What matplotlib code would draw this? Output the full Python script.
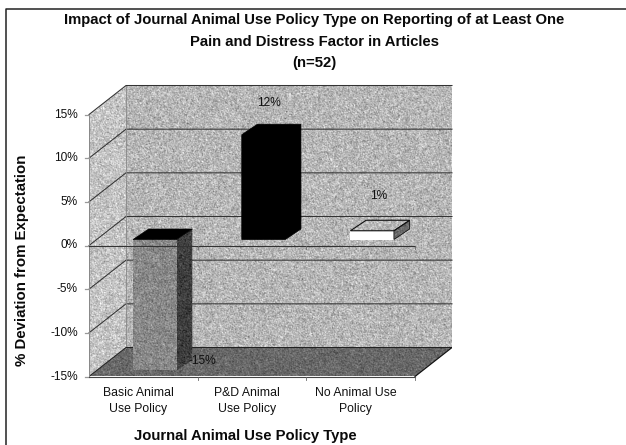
import numpy as np
import matplotlib
matplotlib.use("Agg")
import matplotlib.pyplot as plt
from matplotlib.patches import Polygon

plt.rcParams['font.family'] = ['Liberation Sans', 'DejaVu Sans']

# Chart values
categories = ["Basic Animal\nUse Policy", "P&D Animal\nUse Policy", "No Animal Use\nPolicy"]
deviation = [-15, 12, 1]
value_labels = ["-15%", "12%", "1%"]
y_ticks = [-15, -10, -5, 0, 5, 10, 15]
title_lines = ["Impact of Journal Animal Use Policy Type on Reporting of at Least One",
               "Pain and Distress Factor in Articles", "(n=52)"]
x_title = "Journal Animal Use Policy Type"
y_title = "% Deviation from Expectation"

W, H = 626, 445
fig = plt.figure(figsize=(W / 100, H / 100), dpi=100, facecolor='white')

# Front plane of the plot box, in pixels, and the depth of the box behind it
left, right, top, bottom = 89, 415, 114.5, 376.5
depth_x, depth_y = 37, 29
px_x = 3 / (right - left)
px_y = 30 / (bottom - top)
DX, DY = depth_x * px_x, depth_y * px_y

# The axes reach far enough to hold the receding walls
ax = fig.add_axes([left / W, 1 - bottom / H, (right + depth_x - left) / W, (bottom - top + depth_y) / H])
ax.axis('off')

BAR_DX, BAR_DY = 15.7 * px_x, 10.5 * px_y  # bar depth
OFF_X, OFF_Y = 11.5 * px_x, 6 * px_y       # bar front relative to box front
BAR_W = 43.5 * px_x

rng = np.random.default_rng(7)


def grain(points, mean, spread, z):
    """Fill a polygon with a stippled grey surface."""
    pts = np.array(points, float)
    x0, y0 = pts.min(0)
    x1, y1 = pts.max(0)
    nx = max(2, int(round((x1 - x0) / px_x)))
    ny = max(2, int(round((y1 - y0) / px_y)))
    n = rng.normal(0, 1, (ny, nx))
    n = 0.6 * n + 0.2 * np.roll(n, 1, 0) + 0.2 * np.roll(n, 1, 1)
    im = ax.imshow(mean + spread * n, extent=(x0, x1, y0, y1), origin='lower', cmap='gray',
                   vmin=0, vmax=255, aspect='auto', interpolation='nearest', zorder=z)
    im.set_clip_path(Polygon(pts, transform=ax.transData))


# Walls and floor
grain([(0, -15), (DX, -15 + DY), (DX, 15 + DY), (0, 15)], 196, 24, 1)
grain([(DX, -15 + DY), (3 + DX, -15 + DY), (3 + DX, 15 + DY), (DX, 15 + DY)], 182, 24, 1)
grain([(0, -15), (3, -15), (3 + DX, -15 + DY), (DX, -15 + DY)], 104, 16, 1.5)

# Gridlines along the left and back walls
for t in y_ticks:
    if t > -15:
        ax.plot([0, DX, 3 + DX], [t, t + DY, t + DY], color='#333333', lw=0.75, zorder=2,
                solid_joinstyle='miter', clip_on=False)
ax.plot([DX, DX], [-15 + DY, 15 + DY], color='#888888', lw=0.6, zorder=2)
ax.plot([0, DX, 3 + DX], [-15, -15 + DY, -15 + DY], color='#222222', lw=0.75, zorder=2)
ax.plot([3, 3 + DX], [-15, -15 + DY], color='#111111', lw=0.85, zorder=2)

# Bars
for i, v in enumerate(deviation):
    cx = i + 0.5 + OFF_X
    xa, xb = cx - BAR_W / 2, cx + BAR_W / 2
    ytop = max(OFF_Y, v + OFF_Y)
    ylow = min(OFF_Y, v + OFF_Y)
    top_face = [(xa, ytop), (xb, ytop), (xb + BAR_DX, ytop + BAR_DY), (xa + BAR_DX, ytop + BAR_DY)]
    side_face = [(xb, ylow), (xb + BAR_DX, ylow + BAR_DY), (xb + BAR_DX, ytop + BAR_DY), (xb, ytop)]
    front_face = [(xa, ylow), (xb, ylow), (xb, ytop), (xa, ytop)]
    if v < -5:
        grain(front_face, 136, 20, 3)
        grain(side_face, 62, 16, 3)
        ax.add_patch(Polygon(top_face, fc='black', ec='black', lw=0.5, zorder=3))
    elif v > 5:
        outline = [(xa, ylow), (xb, ylow), (xb + BAR_DX, ylow + BAR_DY), (xb + BAR_DX, ytop + BAR_DY),
                   (xa + BAR_DX, ytop + BAR_DY), (xa, ytop)]
        ax.add_patch(Polygon(outline, fc='black', ec='black', lw=0.5, zorder=3))
    else:
        ax.add_patch(Polygon(front_face, fc='white', ec='none', zorder=3))
        grain(side_face, 105, 16, 3)
        grain(top_face, 182, 24, 3)
        ax.add_patch(Polygon(top_face, fc='none', ec='#111111', lw=0.8, zorder=4))
        ax.add_patch(Polygon(side_face, fc='none', ec='#111111', lw=0.6, zorder=4))

# Category axis at zero, floor edge, and tick marks
ax.plot([0, 3], [0, 0], color='#333333', lw=0.8, zorder=5)
ax.plot([0, 3], [-15, -15], color='#444444', lw=0.8, zorder=5, clip_on=False)
for c in range(1, 4):
    for base in (0, -15):
        ax.plot([c, c], [base, base - 3 * px_y], color='#666666', lw=0.6, zorder=5, clip_on=False)
ax.plot([0, 0], [-15, 15], color='#888888', lw=0.7, zorder=2)

# Value axis ticks and labels
FS = 8.6
for t in y_ticks:
    ax.plot([-4 * px_x, 0], [t, t], color='#999999', lw=0.9, clip_on=False, zorder=2)
    ax.text(-11 * px_x, t, f"{t}%", ha='right', va='center', fontsize=FS, color='#111111')

# Value labels beside each bar
label_dx = [47 * px_x, 5.5 * px_x, 6.5 * px_x]
label_dy = [9 * px_y, 32 * px_y, 35 * px_y]
for i, (v, s) in enumerate(zip(deviation, value_labels)):
    cx = i + 0.5 + OFF_X
    ax.text(cx + label_dx[i], v + OFF_Y + label_dy[i], s, ha='center', va='center', fontsize=FS,
            color='#111111', zorder=6)

# Category labels
for i, s in enumerate(categories):
    ax.text(i + 0.5 - 5 * px_x, -15 - 10 * px_y, s, ha='center', va='top', fontsize=FS + 0.2,
            color='#111111', linespacing=1.45, clip_on=False)

ax.set_xlim(0, 3 + DX)
ax.set_ylim(-15, 15 + DY)


def fig_text(x, y, s, **kw):
    fig.text(x / W, 1 - y / H, s, ha='center', va='center', **kw)


for s, y in zip(title_lines, (20, 41.5, 63.5)):
    fig_text(314.5, y, s, fontsize=10.7, fontweight='bold', color='#0a0a0a')
fig_text(245.5, 436, x_title, fontsize=10.75, fontweight='bold', color='#0a0a0a')
fig_text(22, 260, y_title, fontsize=10.8, fontweight='bold', color='#0a0a0a', rotation=90)

# Frame open to the right and bottom of the canvas
fig.add_artist(plt.Line2D([5.5 / W, 5.5 / W, 1], [0, 1 - 9 / H, 1 - 9 / H], color='#222222', lw=1.1,
                          transform=fig.transFigure))

fig.savefig('out.png', dpi=100, facecolor='white')
